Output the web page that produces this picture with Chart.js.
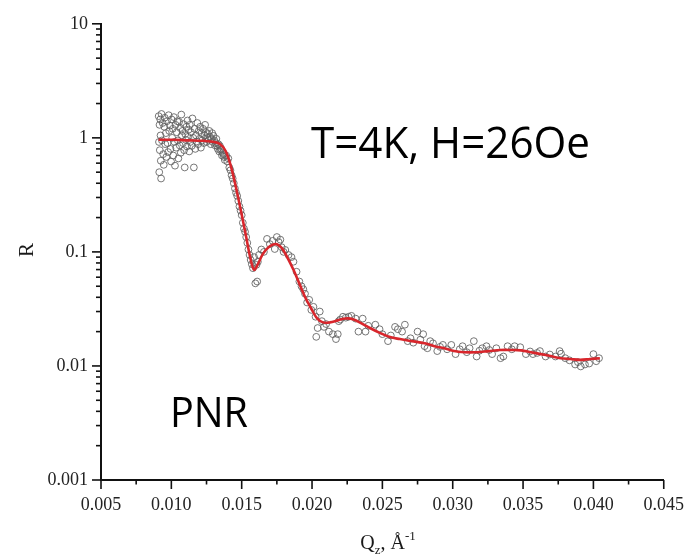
<!DOCTYPE html>
<html><head><meta charset="utf-8">
<script src="https://cdn.jsdelivr.net/npm/chart.js@4.4.1/dist/chart.umd.min.js"></script>
<style>html,body{margin:0;padding:0;background:#fff;} #wrap{width:698px;height:560px;}</style>
</head><body><div id="wrap"><canvas id="c" width="698" height="560"></canvas></div>
<script>
// measured reflectivity (Qz in 1/A, R)
const qMeas = [
 0.00910,0.00912,0.00914,0.00916,0.00918,0.00921,0.00923,0.00925,0.00927,0.00930,
 0.00933,0.00938,0.00942,0.00946,0.00950,0.00953,0.00957,0.00961,0.00965,0.00969,
 0.00973,0.00977,0.00981,0.00985,0.00990,0.00994,0.00998,0.01002,0.01006,0.01010,
 0.01014,0.01018,0.01022,0.01026,0.01030,0.01034,0.01038,0.01042,0.01046,0.01050,
 0.01055,0.01059,0.01063,0.01067,0.01071,0.01075,0.01079,0.01083,0.01087,0.01091,
 0.01095,0.01099,0.01103,0.01107,0.01111,0.01115,0.01119,0.01123,0.01127,0.01131,
 0.01135,0.01140,0.01145,0.01150,0.01155,0.01160,0.01165,0.01170,0.01175,0.01180,
 0.01185,0.01190,0.01195,0.01200,0.01205,0.01210,0.01215,0.01220,0.01225,0.01230,
 0.01235,0.01240,0.01245,0.01250,0.01255,0.01260,0.01265,0.01270,0.01275,0.01280,
 0.01285,0.01290,0.01295,0.01300,0.01305,0.01310,0.01315,0.01320,0.01325,0.01330,
 0.01335,0.01340,0.01345,0.01350,0.01355,0.01360,0.01365,0.01370,0.01375,0.01380,
 0.01390,0.01398,0.01405,0.01412,0.01420,0.01428,0.01436,0.01444,0.01452,0.01460,
 0.01468,0.01476,0.01484,0.01492,0.01500,0.01508,0.01516,0.01524,0.01532,0.01540,
 0.01548,0.01556,0.01564,0.01572,0.01580,0.01588,0.01597,0.01605,0.01610,0.01615,
 0.01623,0.01640,0.01658,0.01680,0.01700,0.01720,0.01735,0.01750,0.01763,0.01775,
 0.01784,0.01798,0.01810,0.01833,0.01854,0.01868,0.01890,0.01910,0.01925,0.01938,
 0.01950,0.01965,0.01980,0.01995,0.02010,0.02025,0.02040,0.02055,0.02070,0.02085,
 0.02030,0.02100,0.02120,0.02148,0.02170,0.02183,0.02190,0.02200,0.02220,0.02240,
 0.02260,0.02280,0.02310,0.02330,0.02360,0.02380,0.02400,0.02450,0.02480,0.02500,
 0.02540,0.02560,0.02590,0.02610,0.02640,0.02660,0.02680,0.02700,0.02720,0.02750,
 0.02770,0.02790,0.02800,0.02820,0.02840,0.02860,0.02890,0.02910,0.02930,0.02960,
 0.02990,0.03020,0.03050,0.03070,0.03100,0.03120,0.03150,0.03170,0.03190,0.03210,
 0.03240,0.03260,0.03280,0.03310,0.03340,0.03360,0.03390,0.03420,0.03440,0.03480,
 0.03520,0.03550,0.03570,0.03600,0.03620,0.03660,0.03690,0.03730,0.03760,0.03770,
 0.03800,0.03830,0.03870,0.03890,0.03910,0.03940,0.03970,0.04000,0.04020,0.04040
];
const rMeas = [
 1.55,0.92,0.50,1.30,0.78,1.45,1.05,0.63,0.44,1.62,
 0.95,1.35,0.72,0.58,1.25,1.50,0.88,1.10,0.68,1.40,
 0.90,0.75,1.58,1.15,1.28,0.80,0.62,1.45,1.00,1.20,
 0.70,1.52,0.92,0.57,1.30,0.82,1.12,1.40,0.95,0.66,
 1.38,0.86,1.22,0.74,1.60,1.05,1.15,0.90,1.32,0.78,
 0.55,1.08,0.96,1.25,0.84,1.42,1.02,1.18,0.76,1.30,
 0.92,1.12,0.85,1.48,1.00,0.55,1.20,0.80,1.05,0.93,
 1.35,0.88,1.15,0.98,1.25,0.82,1.10,0.95,1.20,0.90,
 1.05,1.30,1.12,0.92,1.00,1.08,0.96,1.15,1.02,0.88,
 0.98,1.10,0.92,1.04,0.95,0.86,0.90,0.98,0.85,0.80,
 0.88,0.76,0.85,0.78,0.80,0.70,0.74,0.72,0.68,0.64,
 0.70,0.62,0.66,0.55,0.52,0.47,0.44,0.40,0.36,0.33,
 0.31,0.28,0.25,0.23,0.21,0.18,0.16,0.15,0.135,0.12,
 0.105,0.094,0.085,0.078,0.072,0.090,0.053,0.077,0.055,0.082,
 0.094,0.105,0.100,0.130,0.117,0.125,0.106,0.135,0.122,0.128,
 0.110,0.100,0.104,0.094,0.090,0.082,0.067,0.055,0.050,0.047,
 0.043,0.036,0.038,0.031,0.033,0.027,0.0215,0.030,0.0247,0.022,
 0.018,0.0233,0.020,0.019,0.0172,0.019,0.0247,0.0255,0.027,0.0265,
 0.027,0.0275,0.026,0.020,0.026,0.020,0.0225,0.023,0.021,0.019,
 0.0165,0.0185,0.022,0.021,0.020,0.023,0.0165,0.0175,0.0160,0.020,
 0.0170,0.019,0.0149,0.0143,0.0165,0.0158,0.0135,0.0147,0.0153,0.0140,
 0.0153,0.0127,0.0140,0.0149,0.0132,0.0143,0.0165,0.0121,0.0136,0.0143,
 0.0149,0.0138,0.0127,0.0143,0.0117,0.0121,0.0149,0.0140,0.0149,0.0146,
 0.0127,0.0134,0.0127,0.0130,0.0135,0.0121,0.0126,0.0121,0.0135,0.0128,
 0.0117,0.0112,0.0103,0.0108,0.0099,0.0103,0.0105,0.0127,0.0110,0.0117
];
// fitted curve
const qFit = [0.00909,0.01014,0.01119,0.01224,0.01294,0.01343,0.01385,0.01420,0.01448,0.01476,
 0.01504,0.01532,0.01560,0.01588,0.01616,0.01651,0.01693,0.01742,0.01784,0.01826,
 0.01868,0.01910,0.01952,0.01994,0.02036,0.02078,0.02127,0.02183,0.02240,0.02296,
 0.02352,0.02415,0.02485,0.02555,0.02625,0.02709,0.02800,0.02870,0.02940,0.03010,
 0.03080,0.03171,0.03255,0.03339,0.03416,0.03486,0.03556,0.03626,0.03696,0.03766,
 0.03836,0.03906,0.03976,0.04046];
const rFit = [0.961,0.961,0.951,0.942,0.923,0.887,0.771,0.582,0.423,0.295,
 0.201,0.135,0.0905,0.0697,0.0787,0.0961,0.1105,0.1174,0.1084,0.0887,
 0.0697,0.0527,0.0398,0.0319,0.0261,0.0241,0.0241,0.0251,0.0261,0.0256,
 0.0236,0.0214,0.0194,0.0179,0.0172,0.0165,0.0158,0.0149,0.0143,0.0135,
 0.0132,0.0132,0.0135,0.0138,0.0138,0.0137,0.0132,0.0127,0.0122,0.0117,
 0.0115,0.0113,0.0115,0.0117];

const xMajor = [0.005,0.010,0.015,0.020,0.025,0.030,0.035,0.040,0.045];
const xLabels = ['0.005','0.010','0.015','0.020','0.025','0.030','0.035','0.040','0.045'];
const xMinor = [0.0075,0.0125,0.0175,0.0225,0.0275,0.0325,0.0375,0.0425];
const yMajor = [0.001,0.01,0.1,1,10];
const yLabels = ['0.001','0.01','0.1','1','10'];
const yMinorSteps = [2,3,4,5,6,7,8,9];
const annoText = ['T=4K, H=26Oe','PNR'];
const xTitle = ['Q','z',', Å','-1'];
const yTitle = 'R';

const SERIF = '"Liberation Serif","Times New Roman",serif';
const SANS = '"Open Sans","Noto Sans",sans-serif';
const near = (a,b)=>Math.abs(a-b) < 1e-9 + Math.abs(b)*1e-6;

const xTicks = xMajor.concat(xMinor).sort((a,b)=>a-b);
const yTicks = [];
yMajor.forEach((d,i)=>{ yTicks.push(d); if(i<yMajor.length-1) yMinorSteps.forEach(m=>yTicks.push(d*m)); });

const decor = {
 id:'decor',
 afterDraw(chart){
  const {ctx, chartArea:a, scales:{x,y}} = chart;
  ctx.save();
  ctx.strokeStyle='#111'; ctx.lineWidth=1.6;
  x.ticks.forEach(t=>{
   const px = x.getPixelForValue(t.value);
   const maj = xMajor.some(v=>near(t.value,v));
   ctx.beginPath(); ctx.moveTo(px,a.bottom); ctx.lineTo(px,a.bottom+(maj?9:4.5)); ctx.stroke();
  });
  y.ticks.forEach(t=>{
   const py = y.getPixelForValue(t.value);
   const maj = yMajor.some(v=>near(t.value,v));
   ctx.beginPath(); ctx.moveTo(a.left,py); ctx.lineTo(a.left-(maj?9:5),py); ctx.stroke();
  });
  // axis titles
  ctx.fillStyle='#1a1a1a';
  ctx.save(); ctx.translate(27,250); ctx.rotate(-Math.PI/2);
  ctx.font='21px '+SERIF; ctx.textAlign='center'; ctx.textBaseline='middle';
  ctx.fillText(yTitle,0,0); ctx.restore();
  const big='20px '+SERIF, small='13px '+SERIF;
  const parts=[[xTitle[0],big,0],[xTitle[1],small,5],[xTitle[2],big,0],[xTitle[3],small,-9]];
  let tw=0; parts.forEach(p=>{ctx.font=p[1]; tw+=ctx.measureText(p[0]).width;});
  let cx=388-tw/2; const base=549;
  ctx.textAlign='left'; ctx.textBaseline='alphabetic';
  parts.forEach(p=>{ctx.font=p[1]; ctx.fillText(p[0],cx,base+p[2]); cx+=ctx.measureText(p[0]).width;});
  // annotations
  ctx.fillStyle='#000';
  const fit=(txt,left,baseY,w,size)=>{
   ctx.font=size+'px '+SANS; const mw=ctx.measureText(txt).width;
   ctx.save(); ctx.translate(left,baseY); ctx.scale(w/mw,1); ctx.fillText(txt,0,0); ctx.restore();
  };
  fit(annoText[0],311,158,279,43);
  fit(annoText[1],170,427,78,42);
  ctx.restore();
 }
};

new Chart(document.getElementById('c'),{
 type:'scatter',
 data:{datasets:[
  {label:'fit', data:qFit.map((q,i)=>({x:q,y:rFit[i]})), showLine:true, borderColor:'#d8262c', borderWidth:2.6, pointRadius:0, tension:0.35, order:1},
  {label:'data', data:qMeas.map((q,i)=>({x:q,y:rMeas[i]})), pointRadius:3.4, pointBorderWidth:1, pointBorderColor:'rgba(95,95,95,0.85)', pointBackgroundColor:'rgba(255,255,255,0)', order:2}
 ]},
 options:{
  responsive:false, animation:false, events:[],
  layout:{padding:{top:20,right:25,left:0,bottom:0}},
  plugins:{legend:{display:false},tooltip:{enabled:false}},
  scales:{
   x:{type:'linear',min:0.005,max:0.045,
      grid:{display:false,drawTicks:false},
      border:{display:true,color:'#111',width:2},
      afterBuildTicks:s=>{s.ticks=xTicks.map(v=>({value:v}));},
      afterFit:s=>{s.height=80;},
      ticks:{autoSkip:false,maxRotation:0,padding:14,color:'#222',font:{family:SERIF,size:18},
        callback:(v)=>{const i=xMajor.findIndex(m=>near(v,m)); return i>=0?xLabels[i]:'';}}},
   y:{type:'logarithmic',min:0.001,max:10,
      grid:{display:false,drawTicks:false},
      border:{display:true,color:'#111',width:2},
      afterBuildTicks:s=>{s.ticks=yTicks.map(v=>({value:v}));},
      afterFit:s=>{s.width=101;},
      ticks:{autoSkip:false,padding:13,color:'#222',font:{family:SERIF,size:18},
        callback:(v)=>{const i=yMajor.findIndex(m=>near(v,m)); return i>=0?yLabels[i]:'';}}}
  }
 },
 plugins:[decor]
});
</script></body></html>
